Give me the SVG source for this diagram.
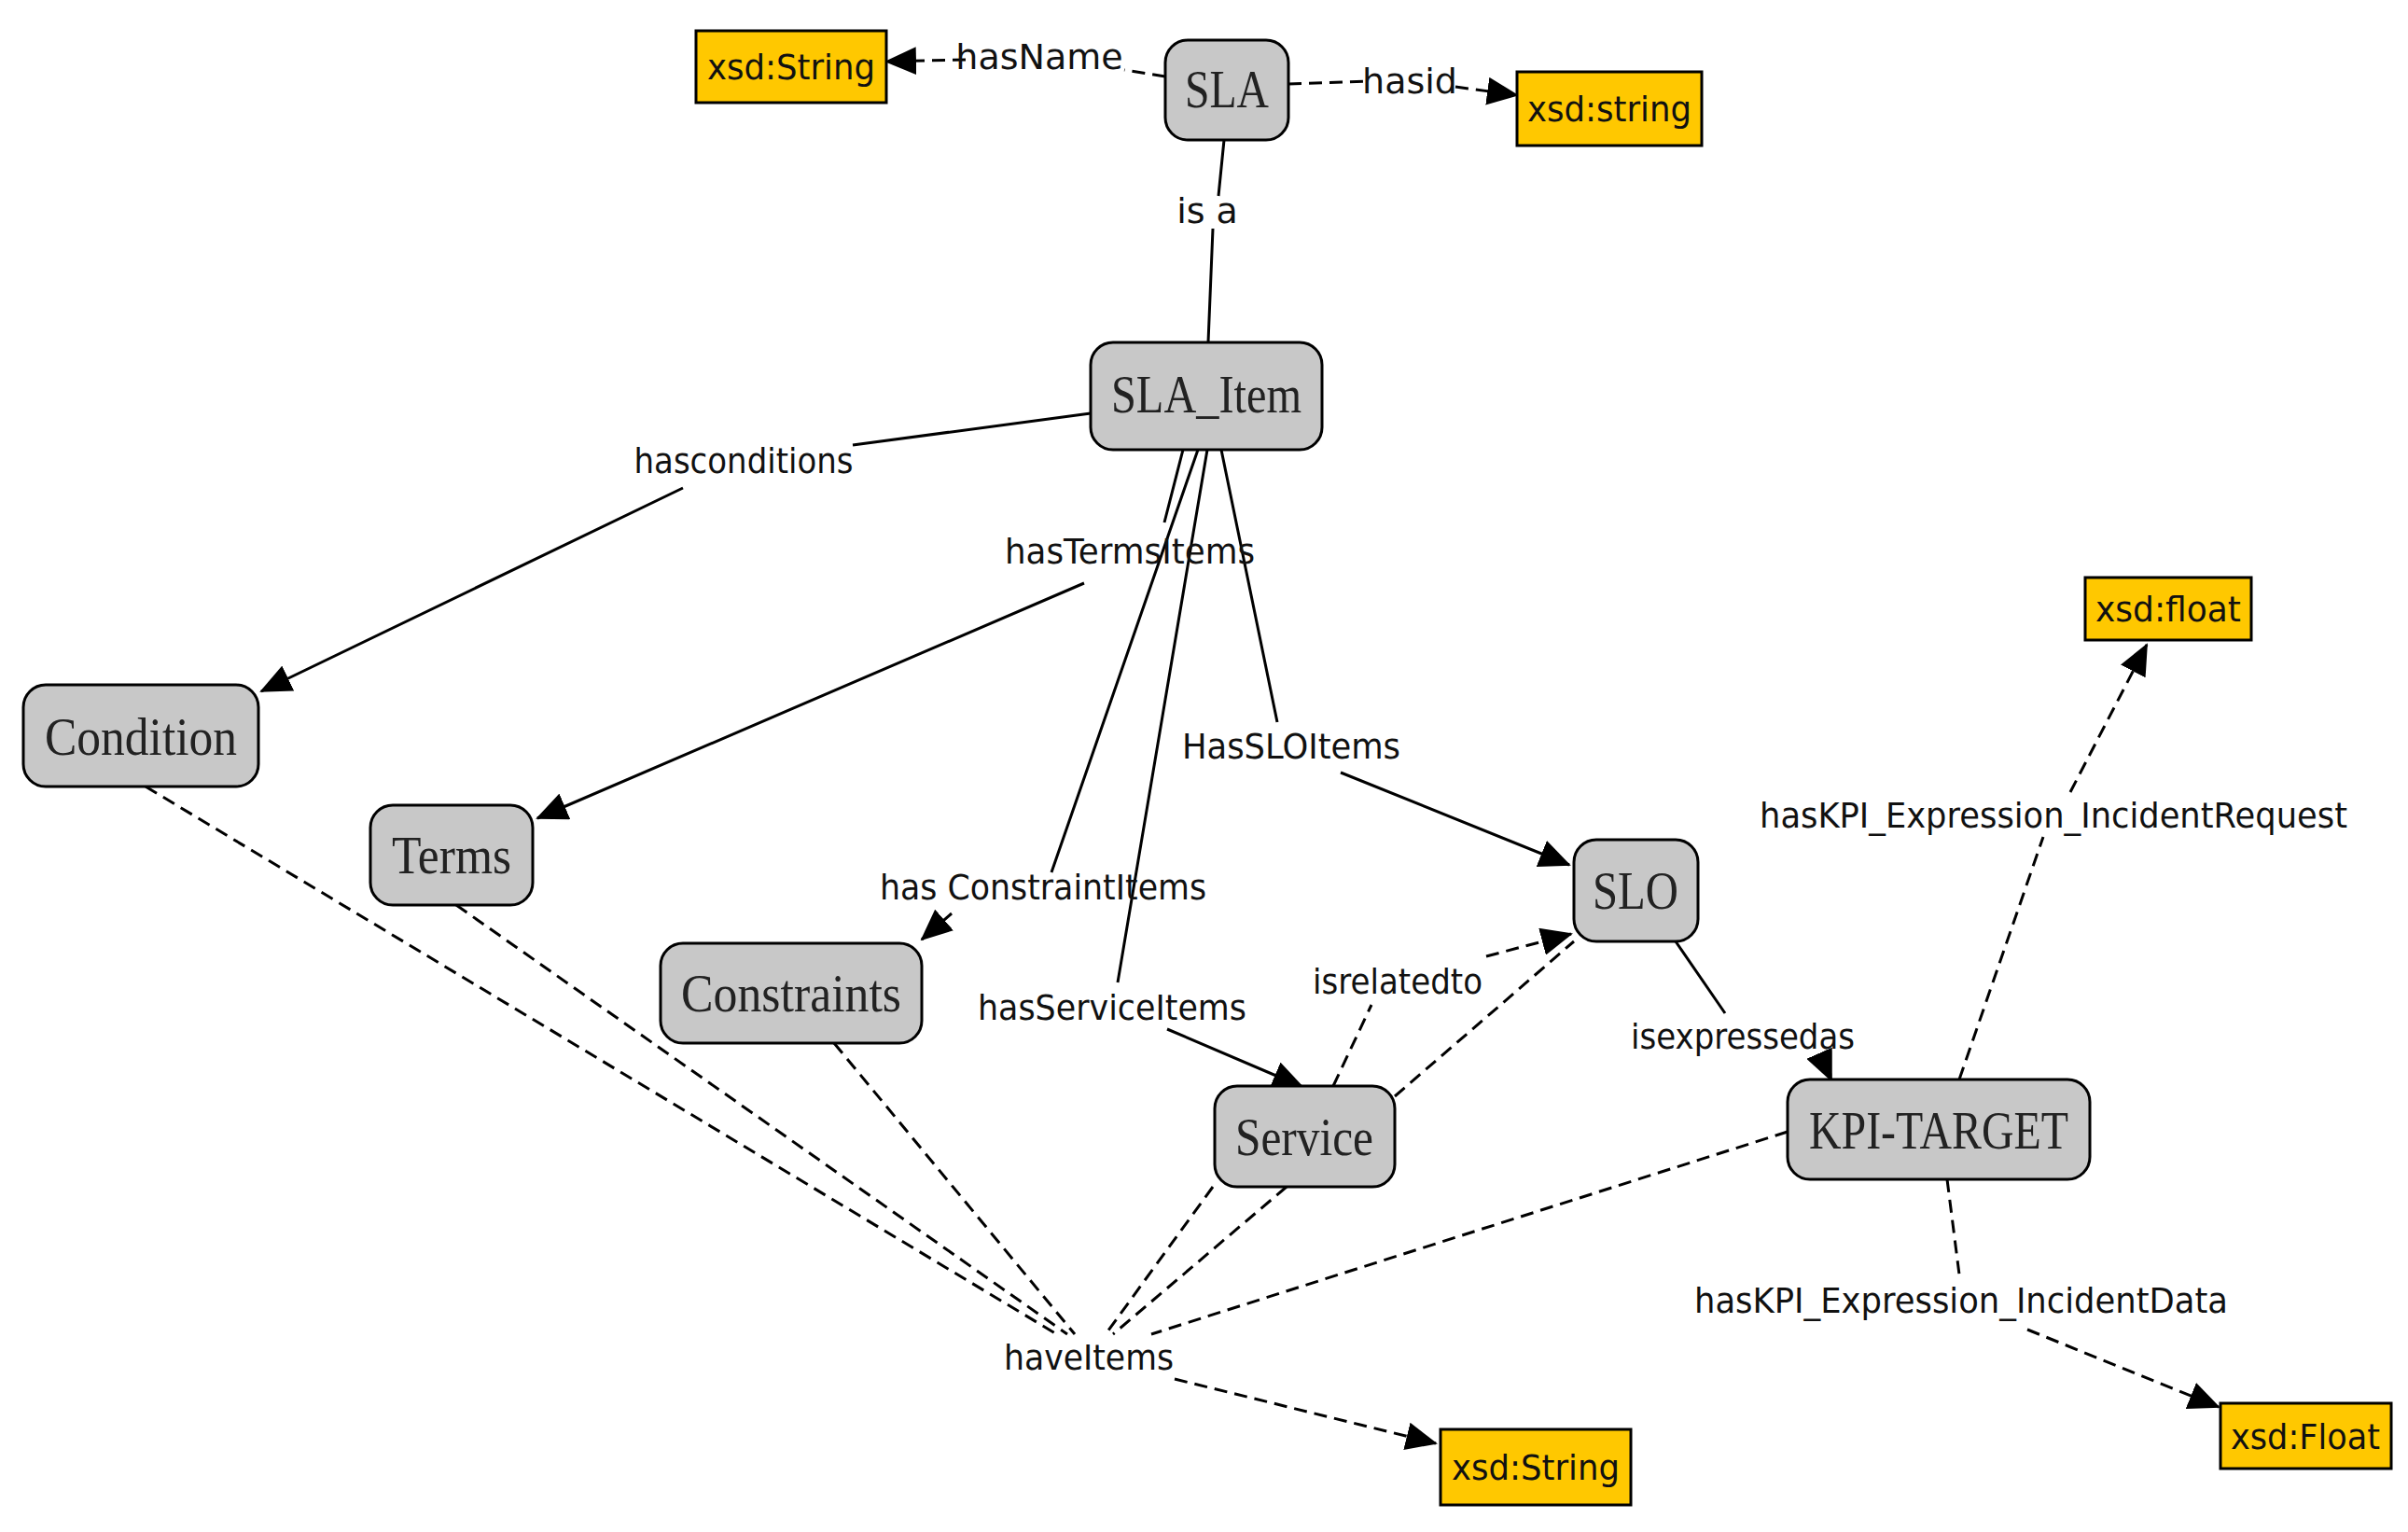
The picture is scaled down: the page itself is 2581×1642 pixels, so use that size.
<svg xmlns="http://www.w3.org/2000/svg" width="2581" height="1642" viewBox="0 0 2581 1642">
<style>
.n rect{fill:#c8c8c8;stroke:#000;stroke-width:3}
.n text{font-family:"Liberation Serif",serif;font-size:56px;text-anchor:middle;fill:#222}
.d rect{fill:#ffc800;stroke:#000;stroke-width:3}
.d text{font-family:"DejaVu Sans",sans-serif;font-size:38px;text-anchor:middle;fill:#111}
.e path{fill:none;stroke:#000;stroke-width:3}
.e .ds{stroke-dasharray:14 8}
.l{font-family:"DejaVu Sans",sans-serif;font-size:38px;text-anchor:middle;fill:#111}
</style>
<defs>
<marker id="a" markerUnits="userSpaceOnUse" markerWidth="34" markerHeight="30" refX="32" refY="15" orient="auto"><path d="M0,0 L34,15 L0,30 Z" fill="#000"/></marker>
</defs>
<rect width="2581" height="1642" fill="#fff"/>
<g id="edges" class="e">
<path class="ds" d="M1249,82 L1205,75 M1035,64 L950,66" marker-end="url(#a)"/>
<path class="ds" d="M1381,90 L1465,87 M1560,93 L1626,102" marker-end="url(#a)"/>
<path d="M1312,150 L1306,210 M1300,245 L1295,367"/>
<path d="M1169,443 L914,477 M732,523 L280,741" marker-end="url(#a)"/>
<path d="M1268,482 L1248,560 M1162,625 L576,877" marker-end="url(#a)"/>
<path d="M1309,482 L1369,774 M1437,828 L1682,927" marker-end="url(#a)"/>
<path d="M1284,482 L1127,935 M1020,979 L988,1007" marker-end="url(#a)"/>
<path d="M1294,482 L1198,1053 M1251,1103 L1396,1165" marker-end="url(#a)"/>
<path class="ds" d="M1429,1164 L1470,1077 M1593,1025 L1684,1001" marker-end="url(#a)"/>
<path class="ds" d="M1495,1175 L1687,1009"/>
<path d="M1796,1009 L1849,1086 M1955,1140 L1963,1158" marker-end="url(#a)"/>
<path class="ds" d="M2100,1157 L2190,897 M2219,849 L2301,691" marker-end="url(#a)"/>
<path class="ds" d="M2087,1264 L2100,1366 M2173,1425 L2378,1508" marker-end="url(#a)"/>
<path class="ds" d="M156,843 L1136,1432 M489,970 L1144,1430 M894,1118 L1152,1430 M1300,1272 L1185,1430 M1379,1272 L1193,1430 M1916,1213 L1234,1430"/>
<path class="ds" d="M1259,1478 L1539,1547" marker-end="url(#a)"/>
</g>
<g id="labels">
<text class="l" x="1114" y="74">hasName</text>
<text class="l" x="1511" y="100">hasid</text>
<text class="l" x="1294" y="239">is a</text>
<text class="l" x="797" y="507" textLength="235" lengthAdjust="spacingAndGlyphs">hasconditions</text>
<text class="l" x="1211" y="604" textLength="268" lengthAdjust="spacingAndGlyphs">hasTermsItems</text>
<text class="l" x="1384" y="813" textLength="234" lengthAdjust="spacingAndGlyphs">HasSLOItems</text>
<text class="l" x="1118" y="964" textLength="350" lengthAdjust="spacingAndGlyphs">has ConstraintItems</text>
<text class="l" x="1192" y="1093" textLength="288" lengthAdjust="spacingAndGlyphs">hasServiceItems</text>
<text class="l" x="1498" y="1065" textLength="182" lengthAdjust="spacingAndGlyphs">isrelatedto</text>
<text class="l" x="1868" y="1124" textLength="240" lengthAdjust="spacingAndGlyphs">isexpressedas</text>
<text class="l" x="2201" y="887" textLength="630" lengthAdjust="spacingAndGlyphs">hasKPI_Expression_IncidentRequest</text>
<text class="l" x="2102" y="1407" textLength="572" lengthAdjust="spacingAndGlyphs">hasKPI_Expression_IncidentData</text>
<text class="l" x="1167" y="1468" textLength="182" lengthAdjust="spacingAndGlyphs">haveItems</text>
</g>
<g id="SLA" class="n"><rect x="1249" y="43" width="132" height="107" rx="24"/><text x="1315" y="115" textLength="90" lengthAdjust="spacingAndGlyphs">SLA</text></g>
<g id="SLA_Item" class="n"><rect x="1169" y="367" width="248" height="115" rx="24"/><text x="1293" y="442" textLength="204" lengthAdjust="spacingAndGlyphs">SLA_Item</text></g>
<g id="Condition" class="n"><rect x="25" y="734" width="252" height="109" rx="24"/><text x="151" y="809" textLength="206" lengthAdjust="spacingAndGlyphs">Condition</text></g>
<g id="Terms" class="n"><rect x="397" y="863" width="174" height="107" rx="24"/><text x="484" y="936" textLength="128" lengthAdjust="spacingAndGlyphs">Terms</text></g>
<g id="Constraints" class="n"><rect x="708" y="1011" width="280" height="107" rx="24"/><text x="848" y="1084" textLength="236" lengthAdjust="spacingAndGlyphs">Constraints</text></g>
<g id="Service" class="n"><rect x="1302" y="1164" width="193" height="108" rx="24"/><text x="1398" y="1238" textLength="148" lengthAdjust="spacingAndGlyphs">Service</text></g>
<g id="SLO" class="n"><rect x="1687" y="900" width="133" height="109" rx="24"/><text x="1753" y="974" textLength="92" lengthAdjust="spacingAndGlyphs">SLO</text></g>
<g id="KPI-TARGET" class="n"><rect x="1916" y="1157" width="324" height="107" rx="24"/><text x="2078" y="1231" textLength="278" lengthAdjust="spacingAndGlyphs">KPI-TARGET</text></g>
<g id="xsd_String_top" class="d"><rect x="746" y="33" width="204" height="77"/><text x="848" y="85" textLength="180" lengthAdjust="spacingAndGlyphs">xsd:String</text></g>
<g id="xsd_string" class="d"><rect x="1626" y="77" width="198" height="79"/><text x="1725" y="130" textLength="176" lengthAdjust="spacingAndGlyphs">xsd:string</text></g>
<g id="xsd_float" class="d"><rect x="2235" y="619" width="178" height="67"/><text x="2324" y="666" textLength="156" lengthAdjust="spacingAndGlyphs">xsd:float</text></g>
<g id="xsd_Float" class="d"><rect x="2380" y="1504" width="183" height="70"/><text x="2471" y="1553" textLength="160" lengthAdjust="spacingAndGlyphs">xsd:Float</text></g>
<g id="xsd_String_bottom" class="d"><rect x="1544" y="1532" width="204" height="81"/><text x="1646" y="1586" textLength="180" lengthAdjust="spacingAndGlyphs">xsd:String</text></g>
</svg>
